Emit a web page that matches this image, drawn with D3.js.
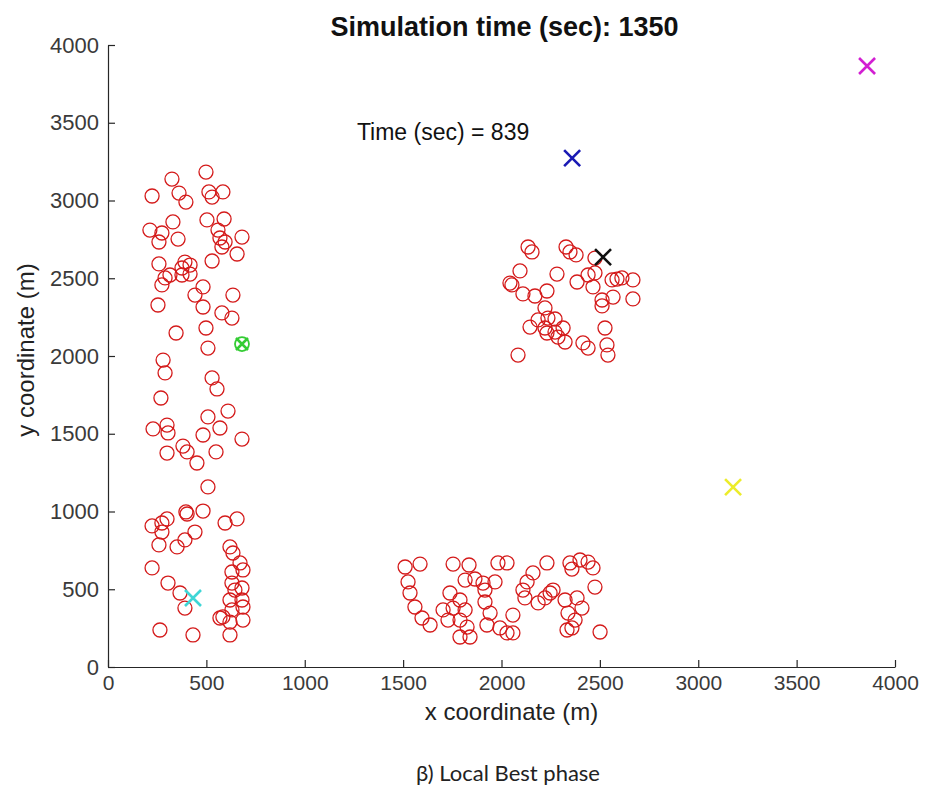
<!DOCTYPE html>
<html>
<head>
<meta charset="utf-8">
<script src="https://cdn.jsdelivr.net/npm/d3@7"></script>
<style>
  body { margin: 0; background: #fff; }
  svg text { font-family: "Liberation Sans", Arial, sans-serif; }
</style>
</head>
<body>
<svg id="chart"></svg>
<script>
// sensor nodes (m)
var nodeX = [498, 325, 224, 361, 396, 513, 529, 584, 330, 503, 590, 213, 274, 259, 356, 559, 569, 595, 681, 579,
    656, 259, 391, 417, 376, 529, 315, 290, 274, 376, 417, 483, 442, 635, 254, 483, 579, 630, 498, 346,
    508, 280, 290, 529, 554, 269,
    508, 610, 229, 300, 305, 569, 483, 681, 381, 402, 300, 549, 452, 508, 396, 402, 483, 300, 274, 224,
    595, 656, 442, 274, 391, 259, 351, 620, 635, 671, 630, 686, 224, 305, 366, 630, 645, 681, 620, 681,
    391, 630, 686, 569, 584, 686, 620, 264, 432, 620,
    2135, 2155, 2328, 2348, 2379, 2475, 2094, 2043, 2053, 2109, 2170, 2231, 2282, 2384, 2440, 2475, 2465, 2562, 2587, 2612,
    2668, 2567, 2668, 2511, 2511, 2221, 2186, 2236, 2272, 2145, 2221, 2231, 2272, 2313, 2323, 2287, 2526, 2414, 2440, 2536,
    2541, 2084,
    1510, 1586, 1525, 1535, 1560, 1596, 1637, 1754, 1835, 1815, 1865, 1738, 1789, 1703, 1754, 1815, 1728, 1789, 1825, 1789,
    1840, 1916, 1982, 2028, 2231, 2348, 2358, 2399, 2440, 2465, 1906, 1967, 2160, 2130, 2109, 2119, 2186, 2221, 2247, 2262,
    2323, 2384, 2409, 2475, 2058, 2338, 2374, 2333, 2358, 2501, 1916, 1942, 1926, 1992, 2028, 2058];
var nodeY = [3183, 3138, 3029, 3048, 2990, 3055, 3022, 3055, 2862, 2875, 2881, 2810, 2791, 2733, 2752, 2810, 2759, 2733, 2765, 2701,
    2656, 2592, 2604, 2585, 2566, 2611, 2521, 2502, 2457, 2521, 2527, 2444, 2392, 2392, 2328, 2315, 2277, 2244, 2180, 2148,
    2051, 1974, 1891, 1859, 1788, 1730,
    1608, 1646, 1531, 1556, 1505, 1537, 1492, 1466, 1421, 1383, 1376, 1383, 1312, 1158, 997, 984, 1003, 952, 926, 907,
    926, 952, 868, 868, 817, 785, 772, 772, 733, 669, 611, 624, 637, 540, 476, 540, 495, 508, 431, 431,
    379, 367, 386, 315, 322, 302, 289, 238, 206, 206,
    2701, 2669, 2701, 2669, 2650, 2630, 2547, 2469, 2457, 2399, 2386, 2418, 2527, 2476, 2521, 2534, 2444, 2489, 2495, 2502,
    2489, 2379, 2367, 2360, 2322, 2309, 2232, 2244, 2238, 2186, 2180, 2148, 2154, 2180, 2090, 2122, 2180, 2084, 2051, 2071,
    2006, 2006,
    643, 662, 547, 476, 386, 315, 270, 662, 656, 559, 566, 476, 431, 367, 379, 367, 302, 302, 257, 193,
    193, 418, 669, 669, 669, 669, 630, 688, 675, 637, 540, 547, 605, 547, 495, 444, 412, 444, 476, 495,
    431, 444, 379, 514, 334, 347, 302, 238, 251, 225, 495, 347, 270, 251, 219, 219];

// mobile agents (cross markers)
var agentX = [2359, 2516, 3858, 3177, 432, 681];
var agentY = [3273, 2636, 3865, 1157, 444, 2077];
var agentColor = ["#1a1ab4", "#111111", "#d21fd2", "#ecec2a", "#3fd6d6", "#33cc33"];
var ringedAgent = 5; // the green one is drawn over a node ring

var xTicks = [0, 500, 1000, 1500, 2000, 2500, 3000, 3500, 4000];
var yTicks = [0, 500, 1000, 1500, 2000, 2500, 3000, 3500, 4000];

var titleText = "Simulation time (sec): 1350";
var timeNote = "Time (sec) = 839";
var timeNoteX = 1265, timeNoteY = 3440;
var caption = "\u03b2) Local Best phase";

var width = 925, height = 801;
var margin = {top: 45, right: 30, bottom: 134, left: 108};

var svg = d3.select("#chart")
    .attr("width", width)
    .attr("height", height);

var xScale = d3.scaleLinear()
    .domain([0, 4000])
    .range([margin.left, width - margin.right]);
var yScale = d3.scaleLinear()
    .domain([0, 4000])
    .range([height - margin.bottom, margin.top]);

var xAxis = svg.append("g")
    .attr("transform", "translate(0," + (height - margin.bottom) + ")")
    .call(d3.axisBottom(xScale).tickValues(xTicks).tickFormat(d3.format("d"))
        .tickSizeInner(-7).tickSizeOuter(0).tickPadding(8));
xAxis.selectAll("text")
    .style("font-size", "21px")
    .attr("fill", "#3a3a3a");

var yAxis = svg.append("g")
    .attr("transform", "translate(" + margin.left + ",0)")
    .call(d3.axisLeft(yScale).tickValues(yTicks).tickFormat(d3.format("d"))
        .tickSizeInner(-7).tickSizeOuter(0).tickPadding(9));
yAxis.selectAll("text")
    .style("font-size", "22px")
    .attr("fill", "#3a3a3a");

svg.selectAll(".domain").attr("stroke", "#262626").attr("stroke-width", 1.2);
svg.selectAll(".tick line").attr("stroke", "#262626").attr("stroke-width", 1.2);

// node rings
svg.selectAll(".node")
    .data(nodeX)
    .enter().append("circle")
    .attr("class", "node")
    .attr("cx", function (d) { return xScale(d); })
    .attr("cy", function (d, i) { return yScale(nodeY[i]); })
    .attr("r", 7)
    .attr("fill", "none")
    .attr("stroke", "#d41a1a")
    .attr("stroke-width", 1.3);

// agents
var cross = svg.selectAll(".agent")
    .data(agentX)
    .enter().append("g")
    .attr("class", "agent")
    .attr("transform", function (d, i) {
        return "translate(" + xScale(d) + "," + yScale(agentY[i]) + ")";
    });
cross.append("path")
    .attr("d", function (d, i) {
        var s = (i == ringedAgent) ? 6 : 8;
        return "M" + (-s) + "," + (-s) + "L" + s + "," + s + "M" + (-s) + "," + s + "L" + s + "," + (-s);
    })
    .attr("stroke", function (d, i) { return agentColor[i]; })
    .attr("stroke-width", 2.6)
    .attr("fill", "none");
cross.filter(function (d, i) { return i == ringedAgent; })
    .append("circle")
    .attr("r", 7)
    .attr("fill", "none")
    .attr("stroke", agentColor[ringedAgent])
    .attr("stroke-width", 1.8);

svg.append("text")
    .attr("x", xScale(timeNoteX))
    .attr("y", yScale(timeNoteY))
    .attr("dy", "0.35em")
    .style("font-size", "23px")
    .attr("fill", "#111")
    .text(timeNote);

svg.append("text")
    .attr("x", (margin.left + width - margin.right) / 2 + 3)
    .attr("y", 36)
    .attr("text-anchor", "middle")
    .style("font-size", "27px")
    .style("font-weight", "bold")
    .attr("fill", "#111")
    .text(titleText);

svg.append("text")
    .attr("x", (margin.left + width - margin.right) / 2 + 10)
    .attr("y", 720)
    .attr("text-anchor", "middle")
    .style("font-size", "24px")
    .attr("fill", "#222")
    .text("x coordinate (m)");

svg.append("text")
    .attr("transform", "translate(34," + 350 + ")rotate(-90)")
    .attr("text-anchor", "middle")
    .style("font-size", "24px")
    .attr("fill", "#222")
    .text("y coordinate (m)");

svg.append("text")
    .attr("x", 508)
    .attr("y", 781)
    .attr("text-anchor", "middle")
    .style("font-family", "Lato, 'Open Sans', sans-serif")
    .style("font-size", "22px")
    .attr("fill", "#222")
    .text(caption);
</script>
</body>
</html>
